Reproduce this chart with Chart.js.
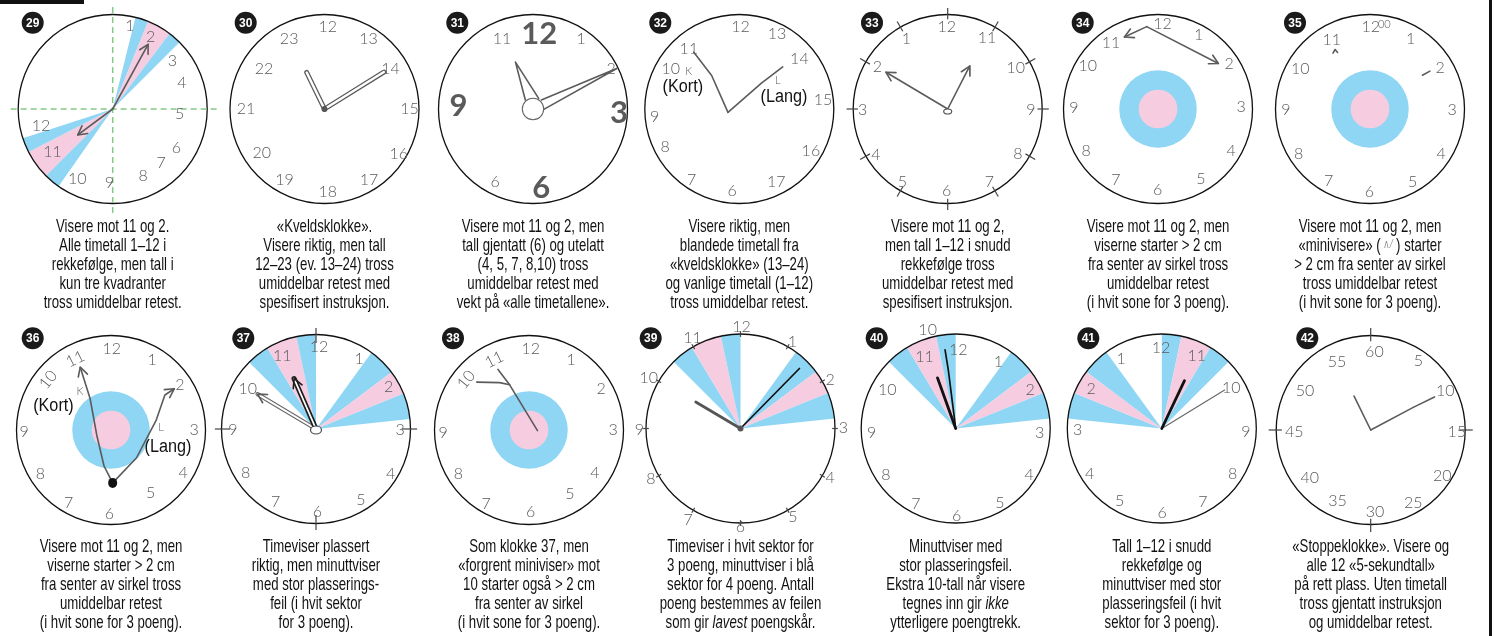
<!DOCTYPE html>
<html>
<head>
<meta charset="utf-8">
<script src="https://cdn.jsdelivr.net/npm/chart.js@4.4.1/dist/chart.umd.min.js"></script>
<style>
  html, body { margin: 0; padding: 0; background: #fff; }
  canvas { display: block; }
</style>
</head>
<body>
<canvas id="clocks" width="1499" height="636"></canvas>
<script>
// Clock numbers: [text, position in degrees clockwise from 12, distance as share of radius, variant]
const digits29 = [['1',11.7,.90],['2',27.9,.86],['3',51.3,.81],['4',69.6,.78],['5',94.5,.71],['6',121.6,.79],['7',138.3,.77],['8',155.6,.78],['9',182.6,.78],['10',206.9,.83],['11',234.6,.78],['12',256.7,.78]];
const digits30 = [['12',2.3,.87],['13',31.9,.88],['14',58.4,.82],['15',90.2,.90],['16',121.2,.92],['17',148,.89],['18',177.7,.88],['19',209.4,.86],['20',234.9,.81],['21',269.8,.83],['22',303.7,.77],['23',333.2,.83]];
const digits31 = [['11',336.1,.81],['12',4.8,.80,'big'],['1',34.4,.90],['2',62.6,.93],['3',92.9,.91,'big'],['9',272,.79,'big'],['6',207.4,.87],['6',174,.84,'big']];
const digits32 = [['11',320,.83],['12',0.9,.87],['13',26.7,.89],['14',50,.83],['15',83.9,.89],['16',120.6,.88],['17',153,.86],['6',185,.87],['7',214,.90],['8',243.2,.88],['9',264.8,.90],['10',300.2,.84],['K',306.9,.67,'tiny'],['L',53.1,.51,'tiny']];
const digits33 = [['12',359.3,.87],['1',329.5,.86],['2',301.2,.87],['3',269.3,.90],['4',237.6,.90],['5',211.8,.91],['6',180.7,.87],['7',150.2,.89],['8',122.3,.88],['9',90.7,.88],['10',59,.84],['11',28.9,.86]];
const digits34 = [['12',3.1,.90],['1',28.8,.89],['2',57.8,.89],['3',88.8,.88],['4',119.7,.89],['5',148.6,.87],['6',180.2,.86],['7',210.8,.87],['8',239.9,.88],['9',271.1,.89],['10',301.4,.87],['11',324.7,.86]];
const digits35 = [['12',0.5,.87],['00',9.6,.91,'tiny'],['1',30.1,.86],['2',59.8,.86],['3',90.7,.87],['4',122.1,.89],['5',149.6,.89],['6',180.5,.88],['7',209.8,.88],['8',237.9,.89],['9',269.3,.89],['10',299.7,.85],['11',331.2,.84]];
const digits36 = [['12',.5,.86],['1',30.5,.86],['2',56.9,.87],['3',90,.88],['4',120.9,.89],['5',147.9,.79],['6',181.1,.89],['7',210.2,.89],['8',238.2,.88],['9',268.9,.92],['10',308.7,.85,'rot'],['11',333.3,.84,'rot'],['K',321,.52,'tiny'],['L',86.9,.53,'tiny']];
const digits37 = [['12',2.1,.87],['1',31.7,.87],['2',59.9,.89],['3',90.7,.89],['4',120.7,.92],['5',147.8,.89],['6',179.1,.88],['7',209,.88],['8',237.8,.88],['9',269.3,.88],['10',300.6,.84],['11',335.2,.85]];
const digits38 = [['12',1.2,.86],['1',30.9,.87],['2',60.1,.88],['3',90,.89],['4',123,.83],['5',147.3,.80],['6',178.8,.87],['7',210.2,.90],['8',238,.88],['9',268.2,.91],['10',308.6,.85,'rot'],['11',333.7,.83,'rot']];
const digits39 = [['12',0.6,1.08],['1',30.8,1.07],['2',61.4,1.08],['3',89.4,1.09],['4',118.6,1.08],['5',149.5,1.09],['6',180,1.04],['7',209.9,1.11],['8',240.5,1.09],['9',269.4,1.07],['10',299.1,1.11],['11',332.2,1.09]];
const digits40 = [['10',344.2,1.09],['11',336.6,.83],['12',1.9,.83],['1',32.6,.84],['2',62.3,.89],['3',92.9,.89],['4',122.4,.92],['5',149.4,.92],['6',179.3,.92],['7',207.9,.90],['8',236.2,.89],['9',267,.89],['10',299.3,.83]];
const digits41 = [['12',359.5,.85],['11',25.8,.85],['10',60,.85],['9',92.3,.89],['8',122.7,.89],['7',150.8,.89],['6',179.8,.89],['5',210,.89],['4',238.1,.90],['3',268.9,.89],['2',299.5,.86],['1',329.5,.85]];
const digits42 = [['60',2.7,.83],['5',34.5,.89],['10',62.5,.89],['15',91.1,.91],['20',122.6,.90],['25',149.6,.89],['30',177,.87],['35',205,.83],['40',231.8,.82],['45',268.8,.81],['50',300.9,.81],['55',333.5,.80]];

// Printed notes inside the dials
const notes32 = [['(Kort)',291,.64],['(Lang)',74.8,.49]];
const notes36 = [['(Kort)',292.6,.66],['(Lang)',106.8,.63]];

// Hands as polylines of [degrees, share of radius]
const hands29 = [[[0,0],[28.7,.78]], [[0,0],[233.4,.46]]];
const hands30 = [[[0,0],[334,.43]], [[0,0],[58.1,.74]]];
const hands31 = [[[319.6,.125],[339.5,.53],[28,.127]], [[42.8,.13],[64.2,.99],[93.6,.11]]];
const hands32 = [[[253.6,.125],[320.5,.46],[321.3,.77]], [[253.6,.125],[40.6,.36],[45.9,.64]]];
const hands33 = [[[0,0],[300.8,.76]], [[0,0],[27.1,.51]]];
const hands34 = [[[352.2,.88],[335,.84]], [[352.2,.88],[53,.80]]];
const hands35 = [[[326.5,.71],[329.6,.73],[330.2,.69]], [[57.2,.66],[57.7,.75]]];
const hands36 = [[[178.2,.56],[190.8,.39],[250.8,.16],[326.4,.40],[333.9,.74]], [[178.2,.56],[137.8,.40],[77.6,.49],[57,.68],[56.9,.80]]];
const hands37 = [[[0,0],[300.8,.72]], [[0,0],[336.5,.58]]];
const hands38 = [[[332.9,.72],[336.8,.52],[94.6,.09]], [[312.5,.75],[328.2,.59],[336.8,.52]]];
const hands39 = [[[0,0],[300.6,.55]], [[0,0],[44.5,.89]]];
const hands40 = [[[0,0],[352.8,.62],[352.3,.84]], [[0,0],[340.2,.57]]];
const hands41 = [[[0,0],[58.5,.78]], [[0,0],[25.4,.56]]];
const hands42 = [[[0,0],[333.9,.40]], [[0,0],[62,.51],[62.6,.76]]];

// Scoring sectors: [from deg, to deg, colour key]
const wedges29 = [[14,22,'b'],[22,37,'p'],[37,45,'b'],[215,225,'b'],[225,243,'p'],[243,252,'b']];
const wedgesStd = [[315,329,'b'],[329,348,'p'],[348,360,'b'],[36,53,'b'],[53,68,'p'],[68,84,'b']];
const wedgesRev = [[0,12,'b'],[12,31,'p'],[31,45,'b'],[276,292,'b'],[292,307,'p'],[307,324,'b']];

const ticksAll = [0,30,60,90,120,150,180,210,240,270,300,330];
const ticksQuarter = [0,90,180,270];

const captionsTop = [
  ['Visere mot 11 og 2.', 'Alle timetall 1–12 i', 'rekkefølge, men tall i', 'kun tre kvadranter', 'tross umiddelbar retest.'],
  ['«Kveldsklokke».', 'Visere riktig, men tall', '12–23 (ev. 13–24) tross', 'umiddelbar retest med', 'spesifisert instruksjon.'],
  ['Visere mot 11 og 2, men', 'tall gjentatt (6) og utelatt', '(4, 5, 7, 8,10) tross', 'umiddelbar retest med', 'vekt på «alle timetallene».'],
  ['Visere riktig, men', 'blandede timetall fra', '«kveldsklokke» (13–24)', 'og vanlige timetall (1–12)', 'tross umiddelbar retest.'],
  ['Visere mot 11 og 2,', 'men tall 1–12 i snudd', 'rekkefølge tross', 'umiddelbar retest med', 'spesifisert instruksjon.'],
  ['Visere mot 11 og 2, men', 'viserne starter > 2 cm', 'fra senter av sirkel tross', 'umiddelbar retest', '(i hvit sone for 3 poeng).'],
  ['Visere mot 11 og 2, men', '«minivisere» ( ~ʌ ⁄~ ) starter', '> 2 cm fra senter av sirkel', 'tross umiddelbar retest', '(i hvit sone for 3 poeng).']
];
const captionsBottom = [
  ['Visere mot 11 og 2, men', 'viserne starter > 2 cm', 'fra senter av sirkel tross', 'umiddelbar retest', '(i hvit sone for 3 poeng).'],
  ['Timeviser plassert', 'riktig, men minuttviser', 'med stor plasserings-', 'feil (i hvit sektor', 'for 3 poeng).'],
  ['Som klokke 37, men', '«forgrent miniviser» mot', '10 starter også > 2 cm', 'fra senter av sirkel', '(i hvit sone for 3 poeng).'],
  ['Timeviser i hvit sektor for', '3 poeng, minuttviser i blå', 'sektor for 4 poeng. Antall', 'poeng bestemmes av feilen', 'som gir *lavest* poengskår.'],
  ['Minuttviser med', 'stor plasseringsfeil.', 'Ekstra 10-tall når visere', 'tegnes inn gir *ikke*', 'ytterligere poengtrekk.'],
  ['Tall 1–12 i snudd', 'rekkefølge og', 'minuttviser med stor', 'plasseringsfeil (i hvit', 'sektor for 3 poeng).'],
  ['«Stoppeklokke». Visere og', 'alle 12 «5-sekundtall»', 'på rett plass. Uten timetall', 'tross gjentatt instruksjon', 'og umiddelbar retest.']
];

// Layout
const W = 1499, H = 636, R = 94.5;
const clockX = [112.7, 324.5, 533, 739.3, 947.7, 1158, 1370, 111, 316, 529, 740.5, 955.7, 1161.8, 1370.7];
const clockY = [109, 109, 109, 109, 109, 109, 109, 430, 429, 430, 428.5, 428.5, 428.5, 430];
const badgeX = [32.7, 245.7, 457.3, 660.3, 872, 1082.7, 1295, 32.7, 243.3, 453, 650.7, 876.7, 1088.3, 1307.3];
const BLUE = '#8fd6f4', PINK = '#f6cce0', INK = '#5a5a5a';
const CAPTION_FONT = '"Liberation Sans Narrow", "Liberation Sans", Arial, sans-serif';
const DIGIT_FONT = 'Lato, "Open Sans", sans-serif';

const panels = [
  { id: 29, digits: digits29, hands: hands29, looks: ['arrow', 'arrow'], wedges: wedges29, cross: true },
  { id: 30, digits: digits30, hands: hands30, looks: ['outline', 'outline'], hubs: [[0, 0, 'dot']] },
  { id: 31, digits: digits31, hands: hands31, looks: ['line', 'line'], hubs: [[0, 0, 'ring']] },
  { id: 32, digits: digits32, hands: hands32, looks: ['line', 'line'], notes: notes32 },
  { id: 33, digits: digits33, hands: hands33, looks: ['arrow', 'arrow'], ticks: ticksAll, tickSpan: [.95, 1.07], hubs: [[0, 0, 'oval']] },
  { id: 34, digits: digits34, hands: hands34, looks: ['arrow', 'arrow'], rings: true },
  { id: 35, digits: digits35, hands: hands35, looks: ['line', 'line'], rings: true },
  { id: 36, digits: digits36, hands: hands36, looks: ['arrow', 'arrow'], rings: true, notes: notes36, hubs: [[178.2, .56, 'blackdot']] },
  { id: 37, digits: digits37, hands: hands37, looks: ['outlineArrow', 'outlineBlackArrow'], wedges: wedgesStd, ticks: ticksQuarter, tickSpan: [.91, 1.07], hubs: [[0, 0, 'hub']] },
  { id: 38, digits: digits38, hands: hands38, looks: ['line', 'line'], rings: true },
  { id: 39, digits: digits39, hands: hands39, looks: ['thick', 'black'], wedges: wedgesStd, ticks: ticksAll, tickSpan: [.97, 1.03], hubs: [[0, 0, 'dot']] },
  { id: 40, digits: digits40, hands: hands40, looks: ['black', 'blackThick'], wedges: wedgesStd },
  { id: 41, digits: digits41, hands: hands41, looks: ['thin', 'blackThick'], wedges: wedgesRev },
  { id: 42, digits: digits42, hands: hands42, looks: ['line', 'line'], ticks: ticksQuarter, tickSpan: [.94, 1.08] }
];

const handLooks = {
  line: [['#5b5b5b', 1.6]],
  arrow: [['#5b5b5b', 1.6]],
  outline: [['#5b5b5b', 5], ['#ffffff', 2.4]],
  outlineArrow: [['#6a6a6a', 4.2], ['#ffffff', 2]],
  outlineBlackArrow: [['#1e1e1e', 5.2], ['#ffffff', 1.8]],
  thick: [['#555555', 2.8]],
  black: [['#111111', 1.7]],
  blackThick: [['#111111', 2.8]],
  thin: [['#666666', 1.1]]
};

function polar(i, deg, frac) {
  const a = deg * Math.PI / 180;
  return { x: clockX[i] + Math.sin(a) * frac * R, y: clockY[i] - Math.cos(a) * frac * R };
}

// Build the line datasets for all hands
const datasets = [];
function addLine(points, color, width) {
  datasets.push({
    data: points,
    showLine: true,
    borderColor: color,
    borderWidth: width,
    pointRadius: 0,
    fill: false,
    tension: 0,
    borderCapStyle: 'round',
    borderJoinStyle: 'round',
    order: 10000 - datasets.length
  });
}

panels.forEach(function(p, i) {
  p.hands.forEach(function(hand, h) {
    const look = p.looks[h];
    const pts = hand.map(([d, f]) => polar(i, d, f));
    handLooks[look].forEach(([c, w]) => addLine(pts, c, w));
    if (look.indexOf('rrow') > 0) {
      const tip = pts[pts.length - 1], prev = pts[pts.length - 2];
      const len = Math.hypot(tip.x - prev.x, tip.y - prev.y);
      const ux = (prev.x - tip.x) / len, uy = (prev.y - tip.y) / len;
      const L = 10, s = 0.5;
      const head = [
        { x: tip.x + L * (ux * Math.cos(s) - uy * Math.sin(s)), y: tip.y + L * (ux * Math.sin(s) + uy * Math.cos(s)) },
        tip,
        { x: tip.x + L * (ux * Math.cos(-s) - uy * Math.sin(-s)), y: tip.y + L * (ux * Math.sin(-s) + uy * Math.cos(-s)) }
      ];
      addLine(head, look === 'outlineBlackArrow' ? '#1e1e1e' : '#5b5b5b', 1.6);
    }
  });
});

const clockPlugin = {
  id: 'clockFaces',
  beforeDatasetsDraw(chart) {
    const ctx = chart.ctx, xs = chart.scales.x, ys = chart.scales.y;
    panels.forEach(function(p, i) {
      const cx = xs.getPixelForValue(clockX[i]), cy = ys.getPixelForValue(clockY[i]);
      const r = xs.getPixelForValue(clockX[i] + R) - cx;
      const at = (d, f) => {
        const pt = polar(i, d, f);
        return [xs.getPixelForValue(pt.x), ys.getPixelForValue(pt.y)];
      };
      ctx.save();
      // sectors
      (p.wedges || []).forEach(function([a0, a1, c]) {
        ctx.beginPath();
        ctx.moveTo(cx, cy);
        ctx.arc(cx, cy, r, (a0 - 90) * Math.PI / 180, (a1 - 90) * Math.PI / 180);
        ctx.closePath();
        ctx.fillStyle = c === 'p' ? PINK : BLUE;
        ctx.fill();
      });
      // centre zones
      if (p.rings) {
        ctx.fillStyle = BLUE;
        ctx.beginPath(); ctx.arc(cx, cy, r * 0.41, 0, Math.PI * 2); ctx.fill();
        ctx.fillStyle = PINK;
        ctx.beginPath(); ctx.arc(cx, cy, r * 0.205, 0, Math.PI * 2); ctx.fill();
      }
      // dial
      ctx.strokeStyle = '#111';
      ctx.lineWidth = 1.3;
      ctx.beginPath(); ctx.arc(cx, cy, r, 0, Math.PI * 2); ctx.stroke();
      // quadrant guides
      if (p.cross) {
        ctx.strokeStyle = '#86c886';
        ctx.lineWidth = 1.5;
        ctx.setLineDash([6, 4]);
        ctx.beginPath();
        ctx.moveTo(cx, cy - r * 1.08); ctx.lineTo(cx, cy + r * 1.1);
        ctx.moveTo(cx - r * 1.08, cy); ctx.lineTo(cx + r * 1.1, cy);
        ctx.stroke();
        ctx.setLineDash([]);
      }
      // tick marks
      if (p.ticks) {
        ctx.strokeStyle = '#444';
        ctx.lineWidth = 1.2;
        p.ticks.forEach(function(d) {
          const a = at(d, p.tickSpan[0]), b = at(d, p.tickSpan[1]);
          ctx.beginPath(); ctx.moveTo(a[0], a[1]); ctx.lineTo(b[0], b[1]); ctx.stroke();
        });
      }
      // numbers
      ctx.fillStyle = INK;
      ctx.textAlign = 'center';
      ctx.textBaseline = 'middle';
      p.digits.forEach(function([t, d, f, v]) {
        const [x, y] = at(d, f);
        if (v === 'big') ctx.font = 'bold 31px ' + DIGIT_FONT;
        else if (v === 'tiny') ctx.font = '300 11px ' + DIGIT_FONT;
        else ctx.font = '300 16px ' + DIGIT_FONT;
        ctx.save();
        ctx.translate(x, y);
        if (v === 'rot') ctx.rotate(d * Math.PI / 180);
        ctx.fillText(t, 0, 0);
        ctx.restore();
      });
      // printed notes
      ctx.fillStyle = '#111';
      ctx.font = '18px ' + CAPTION_FONT;
      (p.notes || []).forEach(function([t, d, f]) {
        const [x, y] = at(d, f);
        ctx.save();
        ctx.translate(x, y);
        ctx.scale(0.9, 1);
        ctx.fillText(t, 0, 0);
        ctx.restore();
      });
      ctx.restore();
    });
  },
  afterDatasetsDraw(chart) {
    const ctx = chart.ctx, xs = chart.scales.x, ys = chart.scales.y;
    ctx.save();
    panels.forEach(function(p, i) {
      (p.hubs || []).forEach(function([d, f, kind]) {
        const pt = polar(i, d, f);
        const x = xs.getPixelForValue(pt.x), y = ys.getPixelForValue(pt.y);
        ctx.beginPath();
        if (kind === 'dot') {
          ctx.arc(x, y, 3, 0, Math.PI * 2); ctx.fillStyle = '#555'; ctx.fill();
        } else if (kind === 'blackdot') {
          ctx.ellipse(x, y, 4.5, 5, 0, 0, Math.PI * 2); ctx.fillStyle = '#111'; ctx.fill();
        } else if (kind === 'ring') {
          ctx.arc(x, y, R * 0.113, 0, Math.PI * 2); ctx.fillStyle = '#fff'; ctx.fill();
          ctx.strokeStyle = '#666'; ctx.lineWidth = 1.1; ctx.stroke();
        } else if (kind === 'oval') {
          ctx.ellipse(x, y + 2.5, 4, 2.5, 0, 0, Math.PI * 2); ctx.fillStyle = '#fff'; ctx.fill();
          ctx.strokeStyle = '#555'; ctx.lineWidth = 1.2; ctx.stroke();
        } else {
          ctx.ellipse(x, y + 1, 5.5, 4, 0, 0, Math.PI * 2); ctx.fillStyle = '#fff'; ctx.fill();
          ctx.strokeStyle = '#444'; ctx.lineWidth = 1.2; ctx.stroke();
        }
      });
    });
    ctx.restore();
  },
  afterDraw(chart) {
    const ctx = chart.ctx, xs = chart.scales.x, ys = chart.scales.y;
    ctx.save();
    // frame marks
    ctx.fillStyle = '#111';
    ctx.fillRect(0, 0, 84, 4);
    ctx.fillRect(1489, 0, 3, H);
    // badges
    panels.forEach(function(p, i) {
      const x = xs.getPixelForValue(badgeX[i]);
      const y = ys.getPixelForValue(i < 7 ? 22.7 : 338.3);
      ctx.fillStyle = '#1a1a1a';
      ctx.beginPath(); ctx.arc(x, y, 11, 0, Math.PI * 2); ctx.fill();
      ctx.fillStyle = '#fff';
      ctx.font = 'bold 12px "Liberation Sans", Arial, sans-serif';
      ctx.textAlign = 'center';
      ctx.textBaseline = 'middle';
      ctx.fillText(String(p.id), x, y + 0.5);
    });
    // captions
    const size = 18.5;
    const normal = size + 'px ' + CAPTION_FONT;
    const italic = 'italic ' + size + 'px ' + CAPTION_FONT;
    ctx.font = normal;
    const squeeze = 138 / ctx.measureText('tross umiddelbar retest.').width;
    ctx.textAlign = 'left';
    ctx.textBaseline = 'alphabetic';
    const allCaptions = captionsTop.concat(captionsBottom);
    allCaptions.forEach(function(lines, i) {
      const cx = xs.getPixelForValue(clockX[i]);
      const top = i < 7 ? 232 : 552;
      lines.forEach(function(line, k) {
        const parts = line.split(/(\*[^*]+\*|~[^~]+~)/).filter(s => s.length);
        const segs = parts.map(function(s) {
          if (s[0] === '*') return { t: s.slice(1, -1), font: italic, color: '#111', dy: 0 };
          if (s[0] === '~') return { t: s.slice(1, -1), font: '12px ' + CAPTION_FONT, color: '#888', dy: -3 };
          return { t: s, font: normal, color: '#111', dy: 0 };
        });
        let total = 0;
        segs.forEach(function(s) { ctx.font = s.font; s.w = ctx.measureText(s.t).width; total += s.w; });
        ctx.save();
        ctx.translate(cx, ys.getPixelForValue(top + k * 19));
        ctx.scale(squeeze, 1);
        let x = -total / 2;
        segs.forEach(function(s) {
          ctx.font = s.font;
          ctx.fillStyle = s.color;
          ctx.fillText(s.t, x, s.dy);
          x += s.w;
        });
        ctx.restore();
      });
    });
    ctx.restore();
  }
};

new Chart(document.getElementById('clocks'), {
  type: 'scatter',
  data: { datasets: datasets },
  options: {
    responsive: false,
    animation: false,
    events: [],
    layout: { padding: 0 },
    plugins: {
      legend: { display: false },
      tooltip: { enabled: false }
    },
    scales: {
      x: { type: 'linear', min: 0, max: W, display: false },
      y: { type: 'linear', min: 0, max: H, reverse: true, display: false }
    }
  },
  plugins: [clockPlugin]
});
</script>
</body>
</html>
